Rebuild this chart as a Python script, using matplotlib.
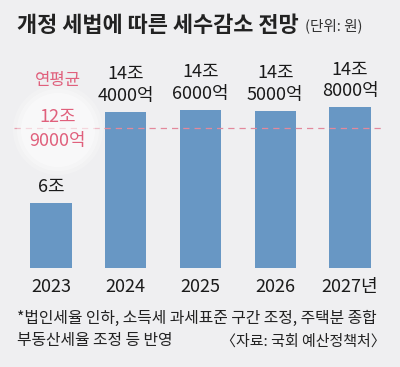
import matplotlib
matplotlib.use('Agg')
import matplotlib.pyplot as plt
from matplotlib.patches import Ellipse

plt.rcParams['font.family'] = ['Noto Sans CJK KR', 'DejaVu Sans']

# data
years = ['2023', '2024', '2025', '2026', '2027년']
values = [6.0, 14.4, 14.6, 14.5, 14.8]
labels = ['6조', '14조\n4000억', '14조\n6000억', '14조\n5000억', '14조\n8000억']
avg = 12.9
avg_label = '12조\n9000억'

W, H = 400, 367
BG = '#efeff1'
BAR = '#6897c4'
PINK = '#e0607c'

fig = plt.figure(figsize=(W / 100, H / 100), dpi=100, facecolor=BG)


def fx(px):
    return px / W


def fy(py):
    return 1 - py / H


# axes in pixels: left 14, right 385, bottom 268, top 60
ax = fig.add_axes([fx(14), fy(268), fx(385 - 14), (268 - 60) / H])
ax.set_facecolor(BG)
ax.patch.set_alpha(0)
x = list(range(len(years)))
ax.set_xlim(-0.495, 4.468)
ax.set_ylim(0, 208 / 10.85)
ax.axis('off')

# soft white glow behind average label
for r, a in [(90, 0.2), (82, 0.3), (74, 0.4)]:
    glow = Ellipse((fx(58), fy(130)), fx(r), r / H, transform=fig.transFigure,
                   facecolor='white', edgecolor='none', alpha=a, zorder=0)
    fig.patches.append(glow)

ax.bar(x, values, width=0.55, color=BAR, zorder=2)
ax.axhline(avg, color='#e3899c', lw=0.9, ls=(0, (5, 4)), zorder=3)

for xi, v, lab in zip(x, values, labels):
    ax.annotate(lab, (xi, v), xytext=(0, 5), textcoords='offset points',
                ha='center', va='bottom', fontsize=13, color='#1a1a1a',
                linespacing=1.25, zorder=4)

fig.text(fx(58), fy(80), '연평균', ha='center', va='center', fontsize=12,
         color=PINK)
fig.text(fx(58), fy(129), avg_label, ha='center', va='center',
         fontsize=13, color=PINK, linespacing=1.4)

# year labels
for xi, yr in zip(x, years):
    ax.annotate(yr, (xi, 0), xytext=(0, -7), textcoords='offset points',
                ha='center', va='top', fontsize=13, color='#1a1a1a')

# title
fig.text(fx(17), fy(25), '개정 세법에 따른 세수감소 전망', ha='left', va='center',
         fontsize=15.8, fontweight='bold', color='#222222')
fig.text(fx(305), fy(26), '(단위: 원)', ha='left', va='center', fontsize=10.5,
         color='#333333')

# footnotes
fig.text(fx(17), fy(318), '*법인세율 인하, 소득세 과세표준 구간 조정, 주택분 종합',
         ha='left', va='center', fontsize=11.4, color='#222222')
fig.text(fx(17), fy(341), '부동산세율 조정 등 반영', ha='left', va='center',
         fontsize=11.4, color='#222222')
fig.text(fx(386), fy(342), '〈자료: 국회 예산정책처〉', ha='right', va='center',
         fontsize=10.8, color='#222222')

fig.savefig('out.png', dpi=100, facecolor=BG)
